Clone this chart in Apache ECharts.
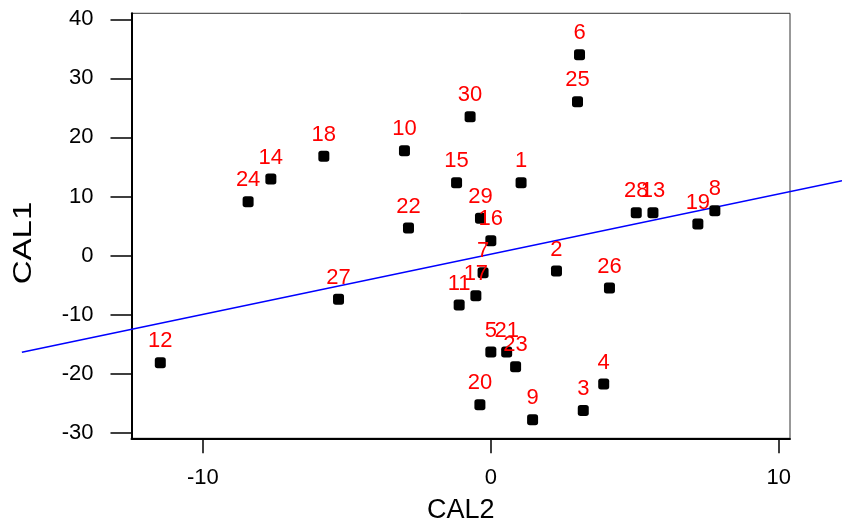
<!DOCTYPE html>
<html>
<head>
<meta charset="utf-8">
<script src="https://cdn.jsdelivr.net/npm/echarts@6/dist/echarts.min.js"></script>
<style>
  html, body { margin: 0; padding: 0; background: #fff; }
  #main { width: 842px; height: 524px; }
</style>
</head>
<body>
<div id="main"></div>
<script>
// point ids and coordinates (CAL2 = x, CAL1 = y)
var ids = ['1', '2', '3', '4', '5', '6', '7', '8', '9', '10',
	'11', '12', '13', '14', '15', '16', '17', '18', '19', '20',
	'21', '22', '23', '24', '25', '26', '27', '28', '29', '30'];
var cal2 = [1.05, 2.28, 3.21, 3.92, 0.00, 3.08, -0.27, 7.78, 1.45, -3.00,
	-1.10, -11.48, 5.63, -7.64, -1.19, 0.00, -0.52, -5.80, 7.19, -0.38,
	0.55, -2.86, 0.86, -8.43, 3.01, 4.12, -5.29, 5.05, -0.36, -0.72];
var cal1 = [12.33, -2.62, -26.24, -21.76, -16.34, 34.0, -2.91, 7.59, -27.80, 17.74,
	-8.38, -18.17, 7.25, 12.95, 12.33, 2.51, -6.81, 16.80, 5.33, -25.29,
	-16.34, 4.66, -18.83, 9.11, 26.04, -5.50, -7.42, 7.25, 6.30, 23.50];

// fitted line end points (runs past the plot box)
var lineX = [-16.29, 12.2];
var lineY = [-16.39, 12.65];

var xTicks = [-10, 0, 10];
var yTicks = [-30, -20, -10, 0, 10, 20, 30, 40];

var font = 'Liberation Sans, Arial, sans-serif';

var points = [];
for (var i = 0; i < ids.length; i++) {
	points.push({ name: ids[i], value: [cal2[i], cal1[i]] });
}
var lineData = [];
for (var j = 0; j < lineX.length; j++) {
	lineData.push([lineX[j], lineY[j]]);
}

var chart = echarts.init(document.getElementById('main'));
var option = {
	animation: false,
	backgroundColor: '#fff',
	grid: [{
		left: 131.5, top: 13.3, width: 658.5, height: 425,
		outerBoundsMode: 'none',
		show: true, borderColor: '#333', borderWidth: 1
	}, {
		// full-canvas grid with the same scale, so the line can leave the box
		left: 0, top: 0, width: 842, height: 524,
		outerBoundsMode: 'none', show: false
	}],
	xAxis: [{
		type: 'value',
		gridIndex: 0,
		min: -12.48, max: 10.39,
		name: 'CAL2',
		nameLocation: 'middle',
		nameGap: 59,
		nameTextStyle: { color: '#000', fontSize: 27, fontFamily: font },
		axisLine: { onZero: false, lineStyle: { color: '#000', width: 2 } },
		axisTick: { inside: false, length: 15, customValues: xTicks, lineStyle: { color: '#000', width: 1.5 } },
		axisLabel: { customValues: xTicks, margin: 29, color: '#000', fontSize: 22, fontFamily: font },
		splitLine: { show: false }
	}, {
		type: 'value', gridIndex: 1, show: false,
		min: -17.05, max: 12.20
	}],
	yAxis: [{
		type: 'value',
		gridIndex: 0,
		min: -30.95, max: 41.01,
		axisLine: { onZero: false, lineStyle: { color: '#000', width: 2 } },
		axisTick: { inside: false, length: 21, customValues: yTicks, lineStyle: { color: '#000', width: 1.5 } },
		axisLabel: { customValues: yTicks, margin: 38, color: '#000', fontSize: 22, fontFamily: font },
		splitLine: { show: false }
	}, {
		type: 'value', gridIndex: 1, show: false,
		min: -45.46, max: 43.26
	}],
	graphic: [{
		type: 'text',
		x: 24, y: 243,
		rotation: Math.PI / 2,
		scaleX: 1.27,
		style: {
			text: 'CAL1', fill: '#000', fontSize: 26, fontFamily: font,
			align: 'center', verticalAlign: 'middle'
		}
	}],
	series: [{
		type: 'line',
		xAxisIndex: 1,
		yAxisIndex: 1,
		data: lineData,
		showSymbol: false,
		silent: true,
		z: 1,
		lineStyle: { color: '#0000ff', width: 1.6 }
	}, {
		type: 'scatter',
		data: points,
		symbol: 'roundRect',
		symbolSize: 11,
		z: 2,
		itemStyle: { color: '#000', opacity: 1 },
		label: {
			show: true,
			position: 'top',
			distance: 5,
			formatter: '{b}',
			color: '#ff0000',
			fontSize: 22,
			fontFamily: font
		},
		labelLayout: { hideOverlap: false }
	}]
};
chart.setOption(option);
</script>
</body>
</html>
